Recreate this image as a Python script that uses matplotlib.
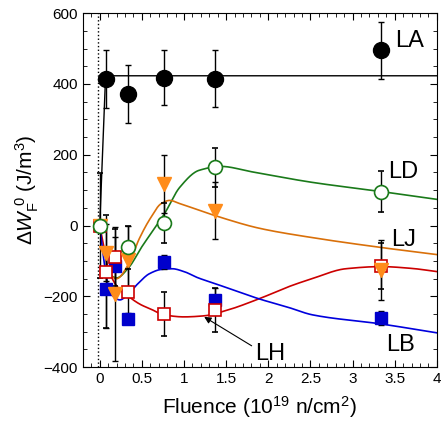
import matplotlib.pyplot as plt
import numpy as np

plt.rcParams['font.family'] = ['Liberation Sans', 'DejaVu Sans']
plt.rcParams['mathtext.fontset'] = 'custom'
plt.rcParams['mathtext.rm'] = 'Liberation Sans'
plt.rcParams['mathtext.it'] = 'Liberation Sans:italic'

# measured points (fluence, dW)
x_la = [0.07, 0.34, 0.76, 1.37, 3.34]
y_la = [415, 372, 418, 415, 495]
e_la = [82, 82, 78, 80, 80]

x_ld = [0.0, 0.34, 0.76, 1.37, 3.34]
y_ld = [0, -62, 8, 164, 96]
e_ld = [147, 60, 56, 55, 58]

x_lj = [0.0, 0.07, 0.18, 0.34, 0.76, 1.37, 3.34]
y_lj = [0, -77, -193, -97, 118, 42, -125]
e_lj = [0, 80, 190, 95, 82, 80, 85]

x_lh = [0.0, 0.07, 0.18, 0.34, 0.76, 1.37, 3.34]
y_lh = [0, -130, -90, -187, -250, -238, -113]
e_lh = [0, 160, 80, 90, 62, 62, 65]

x_lb = [0.07, 0.18, 0.34, 0.76, 1.37, 3.34]
y_lb = [-178, -113, -263, -102, -210, -260]
e_lb = [110, 80, 15, 20, 35, 20]

# fitted curves
cx_la = [0.0, 0.07, 4.0]
cy_la = [0, 423, 423]

cx_ld = [0.12, 0.2, 0.34, 0.5, 0.77, 0.95, 1.18, 1.44, 1.8, 2.52, 3.34, 4.0]
cy_ld = [-140, -148, -120, -60, 34, 108, 156, 167, 152, 122, 96, 74]

cx_lj = [0.12, 0.2, 0.34, 0.47, 0.6, 0.73, 0.83, 0.95, 1.37, 1.9, 2.52, 3.34, 4.0]
cy_lj = [-140, -150, -110, -37, 20, 62, 71, 62, 28, -8, -34, -62, -82]

cx_lh = [0.0, 0.05, 0.1, 0.2, 0.34, 0.5, 0.59, 0.76, 1.0, 1.24, 1.5, 1.89, 2.25, 2.52, 2.92, 3.34, 3.7, 4.0]
cy_lh = [0, -60, -120, -170, -200, -225, -234, -252, -258, -255, -240, -207, -172, -150, -122, -116, -121, -130]

cx_lb = [0.0, 0.04, 0.08, 0.14, 0.24, 0.34, 0.45, 0.59, 0.73, 0.86, 1.0, 1.16, 1.38, 1.89, 2.25, 2.52, 3.34, 4.0]
cy_lb = [0, -80, -147, -195, -210, -193, -165, -136, -124, -122, -130, -147, -165, -207, -232, -252, -278, -303]

# label text and anchor (x, y) for each series
labels = ['LA', 'LD', 'LJ', 'LB']
label_x = [3.5, 3.42, 3.46, 3.4]
label_y = [521, 150, -40, -337]


def smooth(xs, ys, n=400):
    # monotone cubic (pchip) through the read points, only for drawing
    x = np.asarray(xs, float)
    y = np.asarray(ys, float)
    h = np.diff(x)
    d = np.diff(y) / h
    m = np.zeros_like(y)
    for k in range(1, len(x) - 1):
        if d[k - 1] * d[k] > 0:
            w1 = 2 * h[k] + h[k - 1]
            w2 = h[k] + 2 * h[k - 1]
            m[k] = (w1 + w2) / (w1 / d[k - 1] + w2 / d[k])
    m[0] = d[0]
    m[-1] = d[-1]
    xx = np.linspace(x[0], x[-1], n)
    i = np.clip(np.searchsorted(x, xx) - 1, 0, len(x) - 2)
    t = (xx - x[i]) / h[i]
    h00 = 2 * t**3 - 3 * t**2 + 1
    h10 = t**3 - 2 * t**2 + t
    h01 = -2 * t**3 + 3 * t**2
    h11 = t**3 - t**2
    yy = h00 * y[i] + h10 * h[i] * m[i] + h01 * y[i + 1] + h11 * h[i] * m[i + 1]
    return xx, yy


fig = plt.figure(figsize=(4.43, 4.23), dpi=100)
ax = fig.add_axes([0.187, 0.132, 0.799, 0.837])

ax.axvline(-0.02, color='black', ls=':', lw=1)

ax.plot(cx_la, cy_la, color='black', lw=1)
ax.plot(*smooth(cx_ld, cy_ld), color='#1a7a1a', lw=1.2)
ax.plot(*smooth(cx_lj, cy_lj), color='#d9700a', lw=1.2)
ax.plot(*smooth(cx_lh, cy_lh), color='#cc0000', lw=1.2)
ax.plot(*smooth(cx_lb, cy_lb), color='#0000dd', lw=1.2)

eb = dict(ecolor='black', elinewidth=1, capsize=2.5, capthick=1, ls='none')
ax.errorbar(x_lb, y_lb, yerr=e_lb, fmt='s', ms=9, color='#0000cc', **eb)
ax.errorbar(x_lh, y_lh, yerr=e_lh, fmt='s', ms=9, mfc='white', mec='#cc0000', mew=1.2, **eb)
ax.errorbar(x_lj, y_lj, yerr=e_lj, fmt='v', ms=10, color='#ff8c1a', **eb)
ax.errorbar(x_ld, y_ld, yerr=e_ld, fmt='o', ms=10, mfc='white', mec='#1a7a1a', mew=1.2, **eb)
ax.errorbar(x_la, y_la, yerr=e_la, fmt='o', ms=11.5, color='black', **eb)

for name, lx, ly in zip(labels, label_x, label_y):
    ax.text(lx, ly, name, fontsize=17, va='center')
ax.annotate('LH', xy=(1.24, -258), xytext=(1.85, -362), fontsize=17, va='center',
            arrowprops=dict(arrowstyle='-|>', color='black', lw=0.8, mutation_scale=10,
                            shrinkA=1, shrinkB=0, relpos=(0, 0.75)))

ax.set_xlim(-0.2, 4)
ax.set_ylim(-400, 600)
ax.set_xticks(np.arange(0, 4.01, 0.5))
ax.set_xticklabels(['0', '0.5', '1', '1.5', '2', '2.5', '3', '3.5', '4'])
ax.set_xticks(np.arange(-0.2, 4.01, 0.1), minor=True)
ax.set_yticks(np.arange(-400, 601, 200))
ax.set_yticks(np.arange(-400, 601, 50), minor=True)
ax.tick_params(which='both', direction='in', top=True, right=True, labelsize=11)
ax.tick_params(which='major', length=5)
ax.tick_params(which='minor', length=3)

ax.set_xlabel('Fluence (10$^{19}$ n/cm$^2$)', fontsize=15, labelpad=6)
ax.set_ylabel(r'$\Delta\mathit{W}_\mathrm{F}^{\ 0}$ (J/m$^3$)', fontsize=15, labelpad=2)

fig.savefig('out.png', dpi=100)
